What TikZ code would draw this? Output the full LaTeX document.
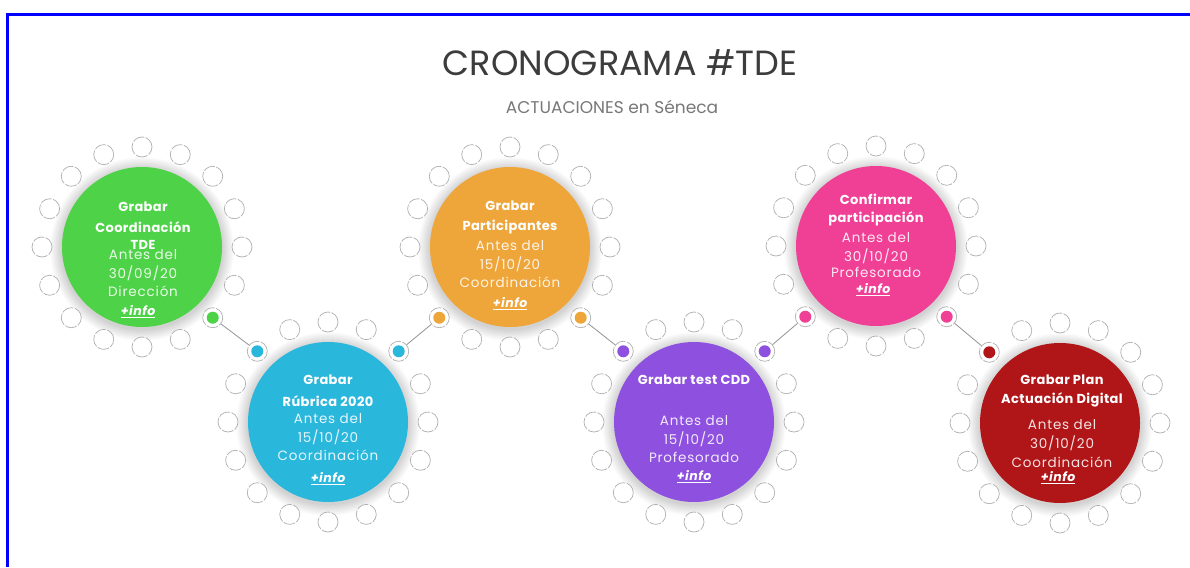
\documentclass[tikz,border=0pt]{standalone}
\usepackage{fontspec}
\setmainfont{Poppins}
\usetikzlibrary{calc}
\definecolor{cgreen}{RGB}{78,211,72}
\definecolor{ccyan}{RGB}{42,183,220}
\definecolor{corange}{RGB}{238,165,58}
\definecolor{cpurple}{RGB}{142,80,222}
\definecolor{cpink}{RGB}{240,64,150}
\definecolor{cred}{RGB}{176,22,24}
\definecolor{ringgray}{RGB}{175,175,175}
\definecolor{frameblue}{RGB}{0,0,255}
\definecolor{titlegray}{RGB}{60,60,60}
\definecolor{subgray}{RGB}{120,120,120}
\tikzset{
  big/.style={circle, minimum size=160pt, inner sep=0pt, fill=#1},
  ringc/.style={circle, minimum size=20pt, inner sep=0pt, draw=ringgray, line width=0.7pt, dash pattern=on 12pt off 1.5pt, fill=white},
  dotc/.style={circle, minimum size=12pt, inner sep=0pt, fill=#1},
  head/.style={text=white, inner sep=0pt, font=\bfseries\fontsize{13}{15}\selectfont\addfontfeatures{LetterSpace=3}},
  det/.style={text=white, text opacity=0.88, inner sep=0pt, font=\fontsize{13.5}{15}\selectfont\addfontfeatures{LetterSpace=6}},
  infot/.style={text=white, inner sep=0pt, font=\bfseries\itshape\fontsize{12.5}{14}\selectfont\addfontfeatures{LetterSpace=4}},
  link/.style={draw=gray!85, line width=0.8pt},
}
\newcommand\station[3]{%
  \coordinate (#1) at #2;
  \foreach \k in {1,...,9}{\fill[black, opacity=0.02] ($(#1)+(0,2)$) circle ({80pt+\k*1.3pt});}
  \node[big=#3] (#1c) at (#1) {};
  \foreach \i [evaluate=\i as \a using \i*22.5] in {0,...,15}{
    \node[ringc] (#1r\i) at ($(#1)+(\a:100)$) {};
  }
}
\begin{document}
\begin{tikzpicture}[x=1pt,y=-1pt]
\useasboundingbox (0,0) rectangle (1190,567);
\fill[white] (0,0) rectangle (1190,567);
\draw[frameblue, line width=3pt] (7.5,567) -- (7.5,14.5) -- (1190,14.5);

\node[text=titlegray, font=\fontsize{35}{40}\selectfont] (title) at (620,63) {CRONOGRAMA \#TDE};
\node[text=subgray, font=\fontsize{17}{20}\selectfont] (sub) at (612,107) {ACTUACIONES en Séneca};

\station{s1}{(142,247)}{cgreen}
\station{s2}{(328,422)}{ccyan}
\station{s3}{(510,247)}{corange}
\station{s4}{(694,422)}{cpurple}
\station{s5}{(876,246)}{cpink}
\station{s6}{(1060,423)}{cred}

% connectors
\draw[link] (s1r2) -- (s2r10);
\draw[link] (s2r14) -- (s3r6);
\draw[link] (s3r2) -- (s4r10);
\draw[link] (s4r14) -- (s5r6);
\draw[link] (s5r2) -- (s6r10);

% coloured dots
\node[dotc=cgreen] (d1a) at (s1r2) {};
\node[dotc=ccyan] (d2a) at (s2r10) {};
\node[dotc=ccyan] (d2b) at (s2r14) {};
\node[dotc=corange] (d3a) at (s3r6) {};
\node[dotc=corange] (d3b) at (s3r2) {};
\node[dotc=cpurple] (d4a) at (s4r10) {};
\node[dotc=cpurple] (d4b) at (s4r14) {};
\node[dotc=cpink] (d5a) at (s5r6) {};
\node[dotc=cpink] (d5b) at (s5r2) {};
\node[dotc=cred] (d6a) at (s6r10) {};

% station 1
\node[head] (t1a) at (143,207) {Grabar};
\node[head] (t1b) at (143,227) {Coordinación};
\node[head] (t1c) at (143,245) {TDE};
\node[det] (t1d) at (143,255) {Antes del};
\node[det] (t1e) at (143,273) {30/09/20};
\node[det] (t1f) at (143,291) {Dirección};
\node[infot] (t1g) at (138,312) {\underline{+info}};
% station 2
\node[head] (t2a) at (328,380) {Grabar};
\node[head] (t2b) at (328,401) {Rúbrica 2020};
\node[det] (t2c) at (328,419) {Antes del};
\node[det] (t2d) at (328,437) {15/10/20};
\node[det] (t2e) at (328,455) {Coordinación};
\node[infot] (t2f) at (328,479) {\underline{+info}};
% station 3
\node[head] (t3a) at (510,206) {Grabar};
\node[head] (t3b) at (510,227) {Participantes};
\node[det] (t3c) at (510,246) {Antes del};
\node[det] (t3d) at (510,264) {15/10/20};
\node[det] (t3e) at (510,282) {Coordinación};
\node[infot] (t3f) at (510,304) {\underline{+info}};
% station 4
\node[head] (t4a) at (694,380) {Grabar test CDD};
\node[det] (t4b) at (694,421) {Antes del};
\node[det] (t4c) at (694,439) {15/10/20};
\node[det] (t4d) at (694,457) {Profesorado};
\node[infot] (t4e) at (694,477) {\underline{+info}};
% station 5
\node[head] (t5a) at (876,199) {Confirmar};
\node[head] (t5b) at (876,219) {participación};
\node[det] (t5c) at (876,238) {Antes del};
\node[det] (t5d) at (876,256) {30/10/20};
\node[det] (t5e) at (876,272) {Profesorado};
\node[infot] (t5f) at (873,290) {\underline{+info}};
% station 6
\node[head] (t6a) at (1062,380) {Grabar Plan};
\node[head] (t6b) at (1062,400) {Actuación Digital};
\node[det] (t6c) at (1062,425) {Antes del};
\node[det] (t6d) at (1062,443) {30/10/20};
\node[det] (t6e) at (1062,462) {Coordinación};
\node[infot] (t6f) at (1058,478) {\underline{+info}};
\end{tikzpicture}
\end{document}
